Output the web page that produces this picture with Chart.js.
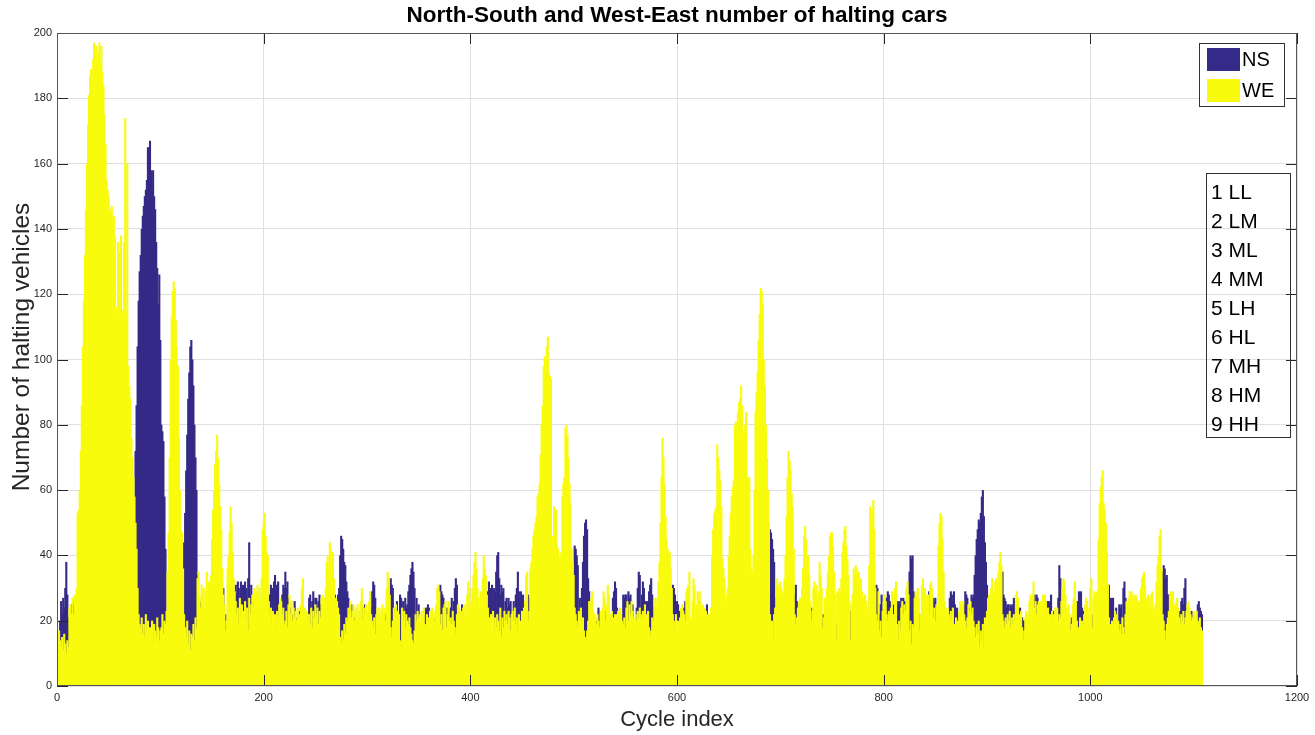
<!DOCTYPE html>
<html>
<head>
<meta charset="utf-8">
<title>Halting cars per cycle</title>
<script src="https://cdn.jsdelivr.net/npm/chart.js@4.4.1/dist/chart.umd.min.js"></script>
<style>
  html, body { margin: 0; padding: 0; background: #ffffff; }
  #wrap { width: 1315px; height: 735px; position: relative; }
</style>
</head>
<body>
<div id="wrap"><canvas id="chart"></canvas></div>
<script>
// Number of halting cars per signal cycle, North-South approach
const nsHalting = [
  6,10,20,26,22,27,24,30,38,28,
  21,18,20,25,15,25,26,12,16,18,
  14,17,12,19,15,13,18,16,20,14,
  15,12,18,16,13,17,14,19,12,16,
  18,14,16,13,17,12,15,19,14,16,
  13,17,15,12,18,14,16,13,17,15,
  14,12,18,15,13,16,19,14,17,15,
  20,24,30,40,56,72,86,104,118,127,
  132,140,144,147,150,152,155,165,162,167,
  158,152,158,150,146,136,128,117,126,106,
  80,78,75,58,42,20,18,15,22,14,
  15,18,13,20,16,14,19,17,21,24,
  30,38,44,53,66,77,88,96,104,106,
  100,92,80,70,60,34,22,18,26,20,
  18,22,15,20,17,24,19,16,21,18,
  17,21,14,19,22,16,20,15,18,23,
  30,18,22,15,20,17,24,19,21,16,
  22,26,31,28,32,30,24,32,29,31,
  27,32,30,25,33,44,28,31,26,20,
  22,18,25,20,16,24,19,21,17,23,
  20,18,24,22,20,28,31,30,27,32,
  34,29,31,32,21,18,23,28,31,30,
  35,30,32,27,19,24,17,22,18,26,
  18,21,15,19,23,17,20,16,21,18,
  16,20,17,27,28,22,26,29,24,27,
  27,21,26,28,25,18,22,20,17,21,
  20,18,22,17,21,19,24,20,28,22,
  20,28,30,40,46,45,42,38,37,32,
  29,27,18,20,25,19,17,21,18,16,
  18,20,16,19,17,24,18,25,20,17,
  17,15,20,24,29,32,31,27,19,21,
  18,16,20,15,19,21,17,22,18,16,
  20,25,33,31,30,19,24,20,26,18,
  18,28,27,20,26,22,27,24,25,29,
  31,34,36,38,35,30,18,27,20,25,
  17,19,16,18,20,22,24,23,25,24,
  20,17,19,18,21,16,18,20,17,22,
  31,29,28,27,20,21,24,16,19,23,
  24,27,22,26,30,33,31,20,18,21,
  18,25,19,17,20,16,21,19,17,20,
  18,21,17,20,19,16,22,18,20,17,
  20,18,22,19,21,24,29,32,30,28,
  31,27,30,29,35,40,41,33,28,31,
  29,30,20,26,27,24,27,25,26,21,
  18,26,20,28,30,35,29,27,29,26,
  28,22,19,18,21,28,27,17,20,18,
  17,20,15,19,22,16,18,21,14,19,
  20,16,18,22,15,19,17,21,18,20,
  18,21,16,20,17,22,19,15,20,18,
  17,20,16,19,21,18,22,20,24,26,
  43,42,40,37,20,27,18,30,38,46,
  50,51,48,33,29,18,21,17,20,19,
  17,20,18,24,23,16,19,21,18,20,
  23,18,20,17,21,16,20,27,29,32,
  30,24,17,19,20,16,22,28,27,28,
  28,22,29,27,28,19,25,17,19,16,
  24,30,35,34,21,28,32,30,22,26,
  19,26,29,31,33,28,24,18,20,17,
  18,20,16,19,22,17,21,18,20,16,
  18,21,17,20,24,31,30,28,24,26,
  25,22,23,18,16,21,24,26,19,17,
  18,16,19,17,20,15,18,21,17,19,
  17,19,20,18,16,21,19,18,25,17,
  18,16,19,17,20,15,18,21,17,19,
  16,20,18,15,19,17,21,16,18,20,
  19,17,21,16,20,18,15,22,17,19,
  18,21,16,19,17,20,15,18,22,17,
  19,17,20,16,18,21,17,19,16,20,
  18,20,17,21,19,16,22,20,42,48,
  47,45,42,38,27,20,18,22,19,21,
  18,21,17,20,16,19,22,18,20,17,
  18,20,17,28,31,26,19,21,18,20,
  17,19,21,16,18,20,17,22,19,24,
  21,18,20,17,19,22,16,20,18,21,
  22,19,17,20,18,21,16,19,22,18,
  18,20,17,19,16,20,18,21,17,19,
  18,20,17,21,19,16,20,23,18,21,
  19,17,21,16,20,18,22,17,19,20,
  18,20,17,21,19,16,20,18,17,21,
  19,24,31,30,22,22,25,28,18,20,
  21,19,27,29,28,26,25,18,24,25,
  20,18,26,25,26,24,27,21,27,26,
  26,20,18,22,35,40,39,40,29,21,
  18,21,17,20,22,19,16,20,18,21,
  20,17,21,29,18,20,22,27,26,27,
  18,20,17,19,21,16,20,18,17,21,
  18,20,17,27,29,28,26,29,25,22,
  24,22,19,17,20,18,21,25,29,28,
  27,20,24,22,28,27,28,34,40,45,
  48,51,50,53,58,60,52,44,38,31,
  25,20,18,21,17,19,22,18,20,16,
  20,18,22,19,35,28,27,26,24,25,
  25,19,25,24,25,27,26,20,17,21,
  23,24,18,21,20,20,16,19,17,18,
  18,20,17,19,21,28,24,28,27,19,
  20,18,21,17,19,22,20,26,25,26,
  25,28,19,23,17,20,18,21,27,37,
  33,24,19,21,18,20,17,21,19,18,
  20,21,18,20,17,19,26,25,29,28,
  29,24,23,18,20,17,19,21,18,20,
  20,22,17,19,21,16,20,18,17,19,
  18,20,17,19,21,18,22,31,25,27,
  26,27,18,20,24,15,17,25,24,25,
  19,30,32,27,17,20,18,21,16,19,
  18,20,17,19,21,16,20,18,19,17,
  20,17,19,21,18,20,16,19,17,22,
  18,20,17,19,21,18,20,17,22,35,
  37,36,33,34,28,28,18,20,17,19,
  18,20,17,19,21,18,23,26,27,25,
  30,33,18,20,17,19,21,23,18,20,
  18,20,17,25,26,24,23,22
];

// Number of halting cars per signal cycle, West-East approach
const weHalting = [
  12,17,14,12,15,11,16,13,10,14,
  12,24,25,22,27,22,28,27,30,53,
  54,60,72,86,104,118,132,146,160,172,
  181,187,189,188,192,197,193,196,190,194,
  197,191,196,188,184,175,166,155,152,150,
  146,145,147,143,144,138,113,116,136,133,
  112,138,115,112,136,174,114,160,98,92,
  88,76,70,64,58,50,42,30,22,19,
  18,21,16,19,15,22,17,20,14,18,
  16,20,13,19,17,15,21,18,14,17,
  18,22,16,20,19,23,35,47,70,100,
  113,121,124,122,112,104,98,76,60,48,
  47,36,22,18,15,20,13,17,11,16,
  15,19,14,21,18,33,35,28,24,31,
  27,30,24,29,35,26,32,30,34,45,
  54,60,68,72,77,70,62,55,48,36,
  28,25,17,20,36,40,47,55,50,41,
  33,29,26,22,24,19,27,21,25,18,
  23,26,20,24,17,27,22,25,28,24,
  30,27,29,31,28,30,26,33,48,50,
  53,46,41,40,26,22,24,18,23,20,
  22,17,23,21,25,27,26,22,24,19,
  20,23,18,25,28,22,26,20,24,21,
  23,20,24,21,22,25,30,33,22,24,
  21,23,20,22,19,24,18,23,21,25,
  22,24,19,23,21,27,28,25,27,30,
  38,40,36,44,42,38,41,33,24,27,
  26,24,22,15,13,17,14,19,16,21,
  20,24,22,26,21,23,25,20,24,22,
  25,21,23,26,30,20,24,22,25,21,
  23,26,29,22,20,18,21,16,22,24,
  22,24,21,23,25,22,24,20,30,35,
  33,28,18,15,20,24,22,25,21,23,
  22,14,12,24,20,23,18,22,20,19,
  21,18,16,14,13,17,22,20,23,21,
  22,20,23,21,24,19,18,22,17,21,
  23,21,24,22,20,23,25,30,31,29,
  19,22,17,24,25,26,18,22,26,20,
  21,19,23,20,18,16,22,25,24,22,
  23,20,24,22,25,21,28,32,30,24,
  26,30,34,38,41,36,30,27,24,29,
  24,33,40,36,34,28,24,21,18,22,
  19,23,16,21,18,22,20,17,24,15,
  21,18,23,20,22,19,23,21,17,22,
  23,20,24,19,21,17,22,20,18,23,
  21,24,26,34,35,20,23,36,38,42,
  46,48,50,52,58,59,62,71,80,86,
  98,101,100,104,107,96,95,94,46,44,
  55,50,54,43,42,39,40,41,58,62,
  64,79,80,77,70,62,56,42,38,34,
  24,22,20,18,23,22,24,19,21,17,
  15,13,17,20,26,24,27,29,23,22,
  21,19,22,20,18,23,21,24,29,27,
  20,25,31,28,22,20,23,21,19,22,
  18,22,23,21,24,22,20,19,21,18,
  24,26,20,25,22,26,23,21,20,22,
  20,23,21,24,22,20,23,21,25,22,
  20,23,18,15,17,21,20,24,27,25,
  27,32,38,50,64,76,70,62,52,45,
  42,40,41,36,30,22,20,16,22,20,
  20,19,21,24,25,23,22,20,29,30,
  31,35,21,20,26,33,31,23,25,29,
  28,29,26,23,25,22,24,23,20,22,
  22,21,24,40,48,53,54,55,74,70,
  66,63,55,39,36,33,26,28,30,40,
  46,53,58,61,63,80,81,77,84,87,
  88,92,86,77,78,80,84,64,63,64,
  42,36,35,40,60,84,90,96,106,114,
  122,121,117,100,92,80,70,60,50,22,
  17,20,14,22,24,30,33,31,28,32,
  30,29,28,33,40,52,64,72,69,66,
  59,55,42,22,19,21,24,26,27,25,
  30,36,46,49,45,40,40,34,26,20,
  23,30,32,29,31,27,29,38,34,30,
  18,21,27,26,30,35,40,46,47,47,
  43,35,28,14,29,28,30,29,33,41,
  44,48,49,43,39,34,26,14,25,28,
  36,34,37,36,33,35,31,33,29,27,
  27,28,26,24,23,37,55,52,54,57,
  48,30,22,20,29,17,20,15,23,26,
  28,26,22,20,23,21,24,29,22,20,
  30,32,19,14,20,17,24,26,22,25,
  23,30,32,28,17,20,13,19,18,27,
  29,28,30,27,17,22,31,33,29,30,
  28,26,28,22,31,32,30,21,24,20,
  25,23,43,50,53,52,45,35,26,24,
  23,24,22,21,23,20,24,19,17,21,
  18,20,23,26,25,24,26,22,20,18,
  21,25,23,26,22,24,20,18,15,19,
  16,20,12,17,14,19,11,21,18,23,
  27,28,26,30,33,28,29,32,33,31,
  35,38,41,37,22,20,18,21,19,22,
  20,23,18,21,19,22,20,28,29,27,
  20,22,23,18,14,17,21,23,20,22,
  26,28,27,28,32,24,26,22,25,26,
  25,26,24,28,27,28,26,22,24,21,
  22,20,23,22,21,24,23,24,20,22,
  21,26,30,33,32,28,24,23,25,22,
  17,19,25,27,32,26,20,18,16,21,
  15,20,19,22,25,27,26,22,24,30,
  33,18,27,29,28,29,28,45,56,61,
  64,66,56,54,50,41,31,21,19,18,
  20,19,21,23,22,18,20,17,19,16,
  21,18,16,22,26,25,27,29,28,29,
  27,28,26,28,27,24,26,25,30,33,
  34,35,31,27,26,28,27,24,28,29,
  24,23,25,32,37,40,46,48,36,22,
  20,17,14,19,21,23,28,29,27,29,
  25,23,26,27,24,21,19,22,20,23,
  19,21,23,25,26,24,22,20,21,23,
  22,21,23,20,19,21,18,17
];

// Cycle index of each bar (1-based)
const cycleIndex = nsHalting.map((_, i) => i + 1);

const xTickValues = [0, 200, 400, 600, 800, 1000, 1200];
const yTickValues = [0, 20, 40, 60, 80, 100, 120, 140, 160, 180, 200];

const seriesNames = ['NS', 'WE'];
const seriesColors = ['#352A87', '#F9FB0E'];
const scenarioLabels = ['1 LL', '2 LM', '3 ML', '4 MM', '5 LH', '6 HL', '7 MH', '8 HM', '9 HH'];

const chartTitle = 'North-South and West-East number of halting cars';
const xTitle = 'Cycle index';
const yTitle = 'Number of halting vehicles';
const FONT = '"Liberation Sans", Arial, Helvetica, sans-serif';
const AXIS_COLOR = '#262626';

Chart.defaults.font.family = FONT;

// Titles, axes box with inward ticks, legend and scenario key
const decorations = {
  id: 'decorations',
  afterDatasetsDraw(chart) {
    const { ctx, chartArea: a, scales: { x, y } } = chart;
    const tick = 11;
    ctx.save();
    ctx.strokeStyle = AXIS_COLOR;
    ctx.lineWidth = 1;
    ctx.beginPath();
    xTickValues.forEach(v => {
      const px = Math.round(x.getPixelForValue(v)) + 0.5;
      ctx.moveTo(px, a.bottom); ctx.lineTo(px, a.bottom - tick);
      ctx.moveTo(px, a.top); ctx.lineTo(px, a.top + tick);
    });
    yTickValues.forEach(v => {
      const py = Math.round(y.getPixelForValue(v)) + 0.5;
      ctx.moveTo(a.left, py); ctx.lineTo(a.left + tick, py);
      ctx.moveTo(a.right, py); ctx.lineTo(a.right - tick, py);
    });
    ctx.stroke();
    ctx.strokeStyle = '#555555';
    ctx.strokeRect(Math.round(a.left) + 0.5, Math.round(a.top) + 0.5,
                   Math.round(a.right - a.left) - 1, Math.round(a.bottom - a.top) - 1);
    ctx.restore();
  },
  afterDraw(chart) {
    const { ctx, chartArea: a } = chart;
    ctx.save();

    // chart title
    ctx.fillStyle = '#000000';
    ctx.font = 'bold 22.5px ' + FONT;
    ctx.textAlign = 'center';
    ctx.textBaseline = 'middle';
    ctx.fillText(chartTitle, (a.left + a.right) / 2, 16);

    // axis titles
    ctx.fillStyle = AXIS_COLOR;
    ctx.font = '22px ' + FONT;
    ctx.fillText(xTitle, (a.left + a.right) / 2, 720);
    ctx.save();
    ctx.translate(22, 347);
    ctx.rotate(-Math.PI / 2);
    ctx.font = '24.5px ' + FONT;
    ctx.fillText(yTitle, 0, 0);
    ctx.restore();

    // legend
    const lx = 1199, ly = 43, lw = 85, lh = 63;
    ctx.fillStyle = '#ffffff';
    ctx.fillRect(lx, ly, lw, lh);
    ctx.strokeStyle = '#333333';
    ctx.lineWidth = 1;
    ctx.strokeRect(lx + 0.5, ly + 0.5, lw, lh);
    ctx.font = '20px ' + FONT;
    ctx.textAlign = 'left';
    ctx.textBaseline = 'middle';
    const rows = [48, 79];
    seriesNames.forEach((name, i) => {
      ctx.fillStyle = seriesColors[i];
      ctx.fillRect(lx + 8, rows[i], 33, 23);
      ctx.fillStyle = '#000000';
      ctx.fillText(name, lx + 43, rows[i] + 12);
    });

    // scenario key (transparent box)
    const bx = 1206, by = 173, bw = 84, bh = 264;
    ctx.strokeStyle = '#333333';
    ctx.strokeRect(bx + 0.5, by + 0.5, bw, bh);
    ctx.font = '21px ' + FONT;
    ctx.textBaseline = 'alphabetic';
    ctx.fillStyle = '#000000';
    scenarioLabels.forEach((t, i) => {
      ctx.fillText(t, bx + 5, 199 + 29 * i);
    });
    ctx.restore();
  }
};

new Chart(document.getElementById('chart'), {
  type: 'bar',
  data: {
    labels: cycleIndex,
    datasets: [
      { label: seriesNames[0], data: nsHalting, backgroundColor: seriesColors[0], order: 1 },
      { label: seriesNames[1], data: weHalting, backgroundColor: seriesColors[1], order: 0 }
    ]
  },
  options: {
    responsive: true,
    maintainAspectRatio: false,
    animation: false,
    events: [],
    layout: { padding: { left: 0, right: 18, top: 33, bottom: 0 } },
    datasets: {
      // bars slightly wider than one cycle so neighbouring bars close up without seams
      bar: { grouped: false, barPercentage: 2.05, categoryPercentage: 1, borderWidth: 0, inflateAmount: 0 }
    },
    plugins: {
      legend: { display: false },
      title: { display: false },
      tooltip: { enabled: false }
    },
    scales: {
      x: {
        type: 'linear',
        min: 0,
        max: 1200,
        offset: false,
        grid: { color: '#dfdfdf', lineWidth: 1, drawTicks: false, offset: false },
        border: { display: false },
        ticks: {
          color: AXIS_COLOR, font: { size: 11 }, padding: 5, maxRotation: 0,
          autoSkip: false, callback: v => String(v)
        },
        afterBuildTicks: s => { s.ticks = xTickValues.map(v => ({ value: v })); },
        afterFit: s => { s.height = 49; }
      },
      y: {
        type: 'linear',
        min: 0,
        max: 200,
        grid: { color: '#dfdfdf', lineWidth: 1, drawTicks: false },
        border: { display: false },
        ticks: { color: AXIS_COLOR, font: { size: 11 }, padding: 5, autoSkip: false },
        afterBuildTicks: s => { s.ticks = yTickValues.map(v => ({ value: v })); },
        afterFit: s => { s.width = 57; }
      }
    }
  },
  plugins: [decorations]
});
</script>
</body>
</html>
